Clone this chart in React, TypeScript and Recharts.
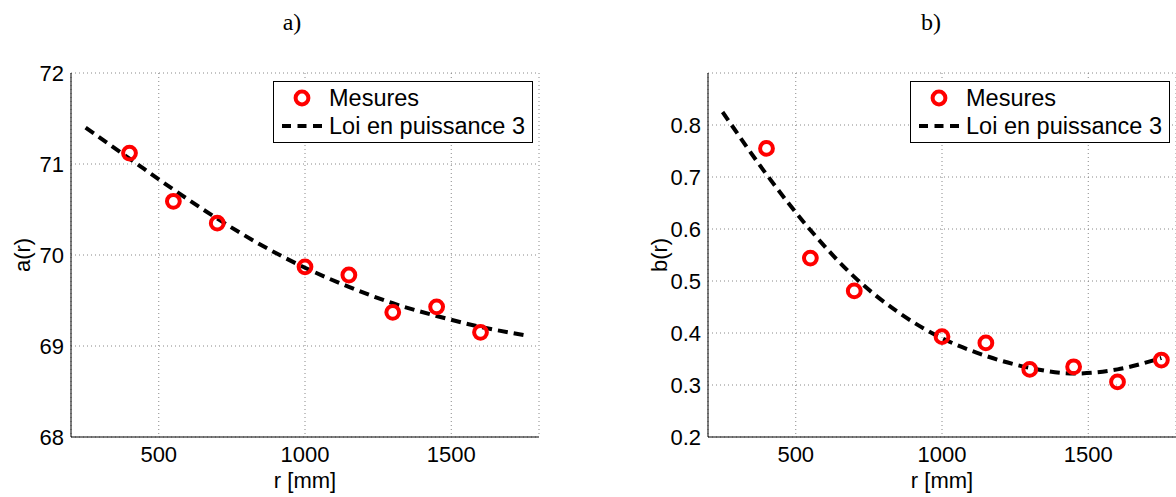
import React from "react"
import {
  ComposedChart, Scatter, Line, XAxis, YAxis, CartesianGrid, Legend,
} from "recharts"

// r positions (mm)
const R_MES_A = [400, 550, 700, 1000, 1150, 1300, 1450, 1600]
const A_MES = [71.12, 70.59, 70.35, 69.87, 69.78, 69.37, 69.43, 69.15]

const R_MES_B = [400, 550, 700, 1000, 1150, 1300, 1450, 1600, 1750]
const B_MES = [0.755, 0.544, 0.481, 0.393, 0.381, 0.33, 0.335, 0.306, 0.348]

// fitted curve
const R_FIT = [250, 400, 550, 700, 850, 1000, 1150, 1300, 1450, 1600, 1750]
const A_FIT = [71.4, 71.06, 70.72, 70.4, 70.11, 69.86, 69.65, 69.47, 69.33, 69.21, 69.12]
const B_FIT = [0.825, 0.705, 0.598, 0.508, 0.44, 0.39, 0.356, 0.333, 0.322, 0.33, 0.352]

const X_TICKS = [500, 1000, 1500]
const A_TICKS = [68, 69, 70, 71, 72]
const B_TICKS = [0.2, 0.3, 0.4, 0.5, 0.6, 0.7, 0.8]

const FONT = "'Liberation Sans', Arial, sans-serif"
const FS = 22

const zip = (xs: number[], ys: number[]) => xs.map((x, i) => ({ x, y: ys[i] }))

function Ring(props: any) {
  if (props.cx == null) return null
  return <circle cx={props.cx} cy={props.cy} r={6.4} fill="none" stroke="#ff0000" strokeWidth={4} />
}

function LegendBox(props: any) {
  const items = [...(props.payload ?? [])].sort((a: any) => (a.type === "circle" ? -1 : 1))
  return (
    <div style={{
      width: 260, height: 62, boxSizing: "border-box", border: "1.5px solid #000",
      background: "#fff", paddingTop: 2, fontFamily: FONT, fontSize: 23.5, color: "#000",
    }}>
      {items.map((it: any) => (
        <div key={it.value} style={{ display: "flex", alignItems: "center", height: 28 }}>
          <svg width={55} height={28}>
            {it.type === "circle"
              ? <circle cx={28} cy={14} r={6.4} fill="none" stroke="#ff0000" strokeWidth={4} />
              : <line x1={8} x2={51} y1={14} y2={14} stroke="#000" strokeWidth={4} strokeDasharray="9 6.5" />}
          </svg>
          <span style={{ lineHeight: "28px", whiteSpace: "nowrap" }}>{it.value}</span>
        </div>
      ))}
    </div>
  )
}

function YTitle({ viewBox, text }: any) {
  // viewBox is the axis box; its right edge is the axis line
  const cx = viewBox.x + viewBox.width - 49
  const cy = viewBox.y + viewBox.height / 2
  return (
    <text x={cx} y={cy} transform={`rotate(-90 ${cx} ${cy})`} textAnchor="middle"
      dominantBaseline="central" fill="#000" fontSize={FS} fontFamily={FONT}>{text}</text>
  )
}

function XTitle({ viewBox, text }: any) {
  return (
    <text x={viewBox.x + viewBox.width / 2} y={viewBox.y + 51} textAnchor="middle"
      fill="#000" fontSize={FS} fontFamily={FONT}>{text}</text>
  )
}

type PanelProps = {
  width: number
  marginRight: number
  mes: { x: number; y: number }[]
  fit: { x: number; y: number }[]
  domain: [number, number]
  ticks: number[]
  yLabel: string
}

function Panel({ width, marginRight, mes, fit, domain, ticks, yLabel }: PanelProps) {
  return (
    <ComposedChart width={width} height={497} margin={{ top: 73, right: marginRight, bottom: 0, left: 11 }}>
      <CartesianGrid strokeDasharray="1 3" stroke="#888" />
      <XAxis
        type="number" dataKey="x" domain={[200, 1800]} ticks={X_TICKS} height={60}
        tickSize={0} tickMargin={9} tickLine={false} axisLine={{ stroke: "#000" }}
        tick={{ fill: "#000", fontSize: FS, fontFamily: FONT }}
        label={{ content: (p: any) => <XTitle viewBox={p.viewBox} text="r [mm]" /> }}
      />
      <YAxis
        type="number" dataKey="y" domain={domain} ticks={ticks} width={60}
        tickSize={0} tickMargin={7} tickLine={false} axisLine={{ stroke: "#000" }}
        tick={{ fill: "#000", fontSize: FS, fontFamily: FONT }}
        label={{ content: (p: any) => <YTitle viewBox={p.viewBox} text={yLabel} /> }}
      />
      <Legend
        layout="vertical" align="center" verticalAlign="middle"
        wrapperStyle={{ left: 273, top: 81, width: 260 }}
        content={(p: any) => <LegendBox payload={p.payload} />}
      />
      <Scatter name="Mesures" data={mes} legendType="circle" shape={<Ring />} isAnimationActive={false} />
      <Line
        name="Loi en puissance 3" data={fit} dataKey="y" type="monotone" legendType="line"
        stroke="#000" strokeWidth={4} strokeDasharray="10 6" dot={false} activeDot={false}
        isAnimationActive={false}
      />
    </ComposedChart>
  )
}

const titleStyle: React.CSSProperties = {
  position: "absolute", top: 8, fontFamily: "'Liberation Serif', 'DejaVu Serif', serif",
  fontSize: 24, lineHeight: "28px", transform: "translateX(-50%)", color: "#000",
}

export default function App() {
  return (
    <div style={{ position: "absolute", left: 0, top: 0, width: 1176, height: 497, background: "#fff", overflow: "hidden" }}>
      <div style={{ ...titleStyle, left: 292 }}>a)</div>
      <div style={{ ...titleStyle, left: 931 }}>b)</div>
      <div style={{ position: "absolute", left: 0, top: 0 }}>
        <Panel width={560} marginRight={21} mes={zip(R_MES_A, A_MES)} fit={zip(R_FIT, A_FIT)}
          domain={[68, 72]} ticks={A_TICKS} yLabel="a(r)" />
      </div>
      <div style={{ position: "absolute", left: 637, top: 0 }}>
        <Panel width={539} marginRight={0} mes={zip(R_MES_B, B_MES)} fit={zip(R_FIT, B_FIT)}
          domain={[0.2, 0.9]} ticks={B_TICKS} yLabel="b(r)" />
      </div>
    </div>
  )
}
